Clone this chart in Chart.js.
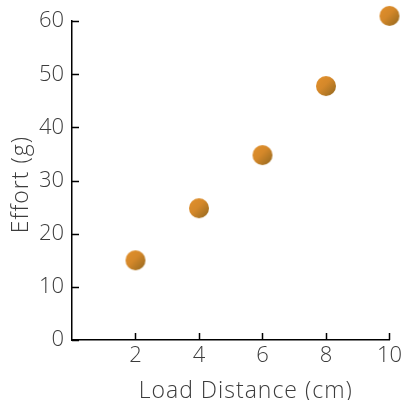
<!DOCTYPE html>
<html>
<head>
<meta charset="utf-8">
<script src="https://cdn.jsdelivr.net/npm/chart.js@4"></script>
<style>
  html, body { margin: 0; padding: 0; background: #fff; }
  #wrap { width: 405px; height: 400px; }
</style>
</head>
<body>
<div id="wrap"><canvas id="chart" width="405" height="400"></canvas></div>
<script>
/* data */
const loadDistance = [2, 4, 6, 8, 10];
const effort = [15, 24.8, 34.8, 47.8, 61];
const xTicks = [2, 4, 6, 8, 10];
const yTicks = [0, 10, 20, 30, 40, 50, 60];
const xTitle = 'Load Distance (cm)';
const yTitle = 'Effort (g)';

const FONT = { family: "'Open Sans', Lato, sans-serif", size: 22, weight: 300 };
const TITLE_SIZE = 23;
const TEXT = '#3c3c3c';

/* shaded ball used as point style */
function makeBall(r) {
  const c = document.createElement('canvas');
  c.width = c.height = r * 2 + 2;
  const g = c.getContext('2d');
  const grad = g.createLinearGradient(0, 0, r * 2, r * 2);
  grad.addColorStop(0, '#e5922c');
  grad.addColorStop(0.5, '#d4882a');
  grad.addColorStop(1, '#96691f');
  g.fillStyle = grad;
  g.beginPath();
  g.arc(r + 1, r + 1, r, 0, Math.PI * 2);
  g.fill();
  return c;
}
const ball = makeBall(10);

/* inward tick marks + axis titles (wider lettering than the library title allows) */
const extras = {
  id: 'extras',
  afterDatasetsDraw(chart) {
    const { ctx, chartArea, scales: { x, y } } = chart;
    ctx.save();
    ctx.strokeStyle = '#000';
    ctx.lineWidth = 1.5;
    ctx.beginPath();
    xTicks.forEach(v => {
      const px = Math.round(x.getPixelForValue(v)) + 0.5;
      ctx.moveTo(px, chartArea.bottom);
      ctx.lineTo(px, chartArea.bottom - 7);
    });
    yTicks.forEach(v => {
      const py = Math.round(y.getPixelForValue(v)) + 0.5;
      ctx.moveTo(chartArea.left, py);
      ctx.lineTo(chartArea.left + 7, py);
    });
    ctx.stroke();

    ctx.fillStyle = TEXT;
    ctx.font = `${FONT.weight} ${TITLE_SIZE}px ${FONT.family}`;
    ctx.letterSpacing = '1px';
    ctx.textAlign = 'center';
    ctx.textBaseline = 'alphabetic';
    ctx.fillText(xTitle, (chartArea.left + chartArea.right) / 2 + 15, chartArea.bottom + 58);

    ctx.translate(28, (chartArea.top + chartArea.bottom) / 2 + 4);
    ctx.rotate(-Math.PI / 2);
    ctx.fillText(yTitle, 0, 0);
    ctx.restore();
  }
};

new Chart(document.getElementById('chart'), {
  type: 'scatter',
  data: {
    datasets: [{
      data: loadDistance.map((v, i) => ({ x: v, y: effort[i] })),
      pointStyle: ball,
      pointRadius: 10,
      pointHoverRadius: 10,
      clip: false
    }]
  },
  options: {
    responsive: false,
    animation: false,
    events: [],
    layout: { padding: { top: 21, right: 14, left: 0, bottom: 0 } },
    plugins: { legend: { display: false }, tooltip: { enabled: false } },
    scales: {
      x: {
        type: 'linear',
        min: 0, max: 10,
        afterBuildTicks: s => { s.ticks = xTicks.map(v => ({ value: v })); },
        afterFit: s => { s.height = 60; },
        grid: { display: true, drawOnChartArea: false, drawTicks: false },
        border: { display: true, color: '#000', width: 1.5 },
        ticks: { color: TEXT, font: FONT, padding: 3, maxRotation: 0, autoSkip: false },
        title: { display: false }
      },
      y: {
        type: 'linear',
        min: 0, max: 60,
        afterBuildTicks: s => { s.ticks = yTicks.map(v => ({ value: v })); },
        afterFit: s => { s.width = 72; },
        grid: { display: true, drawOnChartArea: false, drawTicks: false },
        border: { display: true, color: '#000', width: 1.5 },
        ticks: { color: TEXT, font: FONT, padding: 8, autoSkip: false },
        title: { display: false }
      }
    }
  },
  plugins: [extras]
});
</script>
</body>
</html>
